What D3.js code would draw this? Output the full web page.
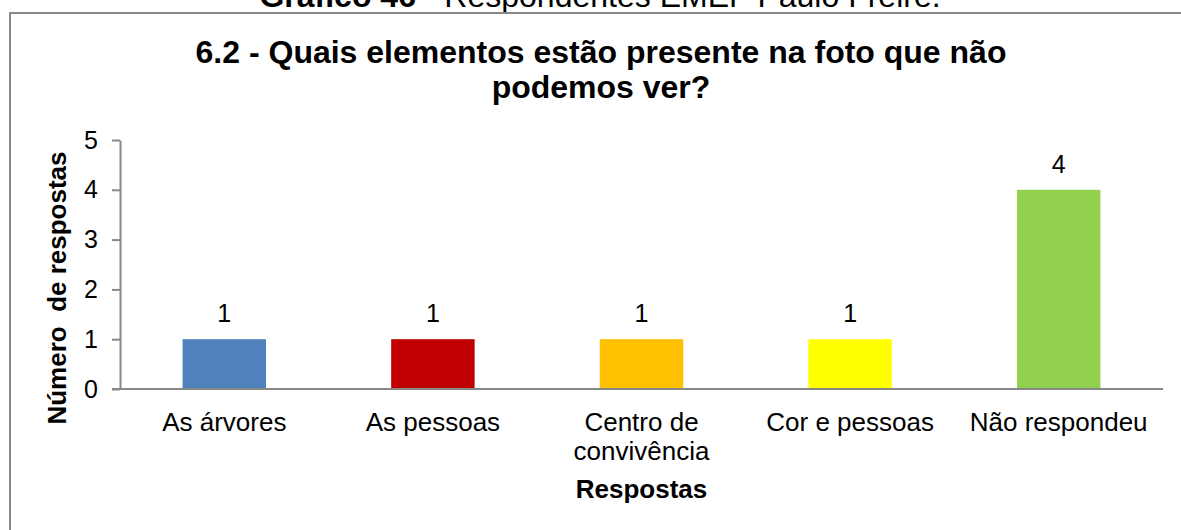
<!DOCTYPE html>
<html>
<head>
<meta charset="utf-8">
<script src="https://cdn.jsdelivr.net/npm/d3@7"></script>
<style>
  html, body { margin: 0; padding: 0; background: #fff; }
  svg { display: block; font-family: Arial, "Liberation Sans", sans-serif; }
</style>
</head>
<body>
<svg id="chart" width="1181" height="530"></svg>
<script>
const categories = ["As árvores", "As pessoas", "Centro de convivência", "Cor e pessoas", "Não respondeu"];
const categoryLines = [["As árvores"], ["As pessoas"], ["Centro de", "convivência"], ["Cor e pessoas"], ["Não respondeu"]];
const values = [1, 1, 1, 1, 4];
const colors = ["#4F81BD", "#C00000", "#FFC000", "#FFFF00", "#92D050"];
const yTicks = [0, 1, 2, 3, 4, 5];

const svg = d3.select("#chart");

// caption above the frame (partly clipped at the top edge)
const cap = svg.append("text")
  .attr("x", 600).attr("y", 7)
  .attr("text-anchor", "middle")
  .attr("font-size", 32).attr("fill", "#000");
cap.append("tspan").attr("font-weight", "bold").text("Gráfico 46");
cap.append("tspan").text(" - Respondentes EMEF Paulo Freire.");

// chart frame
svg.append("rect")
  .attr("x", 10).attr("y", 13)
  .attr("width", 1200).attr("height", 560)
  .attr("fill", "none").attr("stroke", "#888").attr("stroke-width", 2);

// chart title
const title = svg.append("text")
  .attr("text-anchor", "middle")
  .attr("font-size", 32).attr("font-weight", "bold").attr("fill", "#000");
title.append("tspan").attr("x", 601).attr("y", 63).text("6.2 - Quais elementos estão presente na foto que não");
title.append("tspan").attr("x", 601).attr("y", 98).text("podemos ver?");

const plot = { left: 120, right: 1163, top: 140, bottom: 389 };

const x = d3.scaleBand()
  .domain(categories)
  .range([plot.left, plot.right])
  .paddingInner(0.6)
  .paddingOuter(0.3);

const y = d3.scaleLinear()
  .domain([0, 5])
  .range([plot.bottom, plot.top]);

// y axis
const yAxis = svg.append("g")
  .attr("transform", `translate(${plot.left},0)`)
  .call(d3.axisLeft(y).tickValues(yTicks).tickFormat(d3.format("d"))
    .tickSize(8).tickSizeOuter(0).tickPadding(14));
yAxis.select(".domain").attr("stroke", "#888").attr("stroke-width", 2);
yAxis.selectAll(".tick line").attr("stroke", "#888").attr("stroke-width", 2);
yAxis.selectAll(".tick text")
  .attr("font-size", 25).attr("fill", "#000")
  .attr("font-family", "Arial, 'Liberation Sans', sans-serif");

// bars
svg.append("g").selectAll("rect")
  .data(values)
  .join("rect")
  .attr("x", (d, i) => x(categories[i]))
  .attr("y", d => y(d))
  .attr("width", x.bandwidth())
  .attr("height", d => y(0) - y(d))
  .attr("fill", (d, i) => colors[i]);

// x axis line (extends under the y tick marks)
svg.append("line")
  .attr("x1", plot.left - 8).attr("x2", plot.right)
  .attr("y1", y(0)).attr("y2", y(0))
  .attr("stroke", "#888").attr("stroke-width", 2);

// value labels
svg.append("g").selectAll("text")
  .data(values)
  .join("text")
  .attr("x", (d, i) => x(categories[i]) + x.bandwidth() / 2)
  .attr("y", d => y(d) - 17)
  .attr("text-anchor", "middle")
  .attr("font-size", 25).attr("fill", "#000")
  .text(d => d);

// category labels
const catG = svg.append("g");
categories.forEach((c, i) => {
  const t = catG.append("text")
    .attr("text-anchor", "middle")
    .attr("font-size", 26).attr("fill", "#000");
  categoryLines[i].forEach((line, j) => {
    t.append("tspan")
      .attr("x", x(c) + x.bandwidth() / 2)
      .attr("y", 431 + j * 29)
      .text(line);
  });
});

// axis titles
svg.append("text")
  .attr("x", (plot.left + plot.right) / 2).attr("y", 498)
  .attr("text-anchor", "middle")
  .attr("font-size", 26).attr("font-weight", "bold").attr("fill", "#000")
  .text("Respostas");

svg.append("text")
  .attr("transform", "translate(66,288) rotate(-90)")
  .attr("text-anchor", "middle")
  .attr("font-size", 26).attr("font-weight", "bold").attr("fill", "#000")
  .attr("xml:space", "preserve")
  .style("white-space", "pre")
  .text("Número  de respostas");
</script>
</body>
</html>
